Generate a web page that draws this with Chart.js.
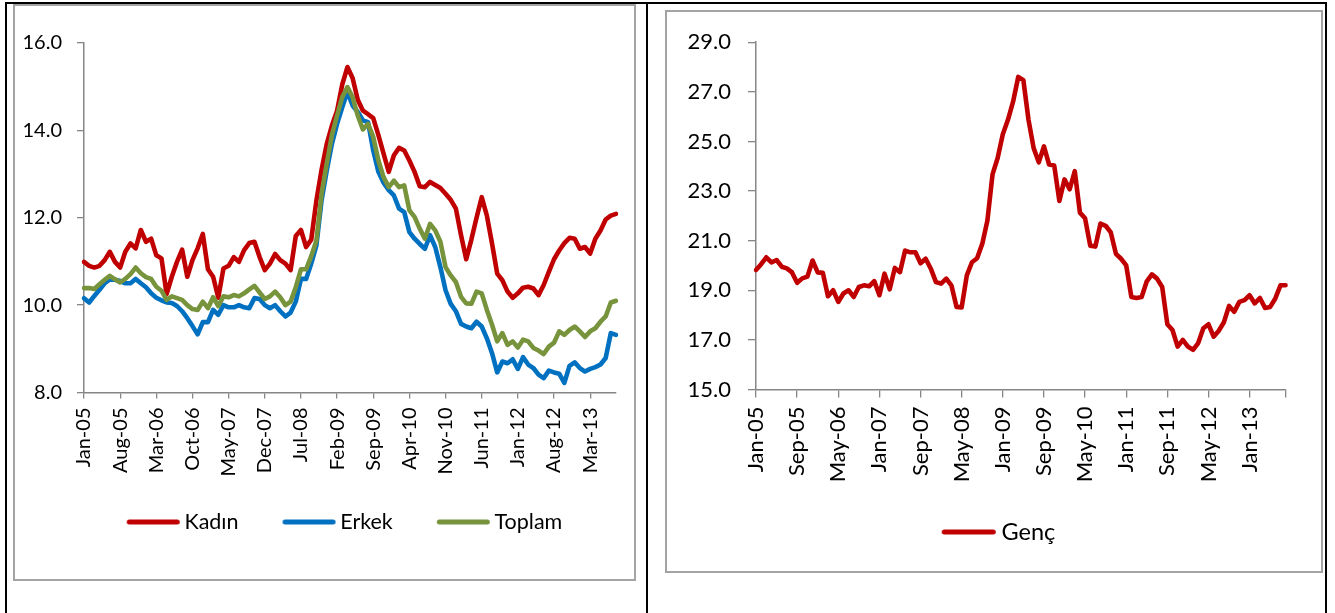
<!DOCTYPE html>
<html><head><meta charset="utf-8">
<script src="https://cdn.jsdelivr.net/npm/chart.js@4.4.1/dist/chart.umd.min.js"></script>
<style>
html,body{margin:0;padding:0;background:#fff;width:1335px;height:613px;overflow:hidden;}
.bl{position:absolute;background:#000;}
.box{position:absolute;border:2px solid #a3a3a3;box-sizing:border-box;background:#fff;}
canvas{position:absolute;}
</style></head><body>
<div class="bl" style="left:5px;top:2px;width:1322px;height:2px"></div>
<div class="bl" style="left:5px;top:2px;width:2px;height:611px"></div>
<div class="bl" style="left:646px;top:2px;width:2px;height:611px"></div>
<div class="bl" style="left:1325px;top:2px;width:2px;height:611px"></div>
<div class="box" style="left:13px;top:4px;width:623px;height:577px"></div>
<div class="box" style="left:665px;top:10px;width:658px;height:563px"></div>
<canvas id="c1" width="619" height="573" style="left:15px;top:6px;width:619px;height:573px"></canvas>
<canvas id="c2" width="654" height="559" style="left:667px;top:12px;width:654px;height:559px"></canvas>
<script>
const monthNames = ['Jan','Feb','Mar','Apr','May','Jun','Jul','Aug','Sep','Oct','Nov','Dec'];
const categories = [];
for (let y = 2005; y <= 2013; y++) {
  for (let m = 0; m < 12; m++) {
    if (categories.length < 104) categories.push(monthNames[m] + '-' + String(y).slice(2));
  }
}
const kadin = [10.99,10.90,10.86,10.90,11.03,11.22,10.99,10.86,11.22,11.41,
11.30,11.72,11.45,11.52,11.14,11.07,10.25,10.65,10.99,11.27,
10.65,11.03,11.30,11.63,10.82,10.65,10.17,10.84,10.90,11.10,
10.99,11.26,11.42,11.45,11.10,10.80,10.95,11.17,11.03,10.95,
10.80,11.58,11.72,11.33,11.50,12.40,13.10,13.69,14.11,14.45,
15.05,15.45,15.20,14.70,14.45,14.37,14.28,13.89,13.47,13.05,
13.43,13.60,13.54,13.31,13.05,12.72,12.70,12.82,12.75,12.68,
12.55,12.41,12.21,11.60,11.05,11.50,12.00,12.47,12.05,11.41,
10.72,10.57,10.31,10.17,10.27,10.40,10.42,10.38,10.23,10.46,
10.76,11.05,11.25,11.42,11.54,11.52,11.29,11.33,11.18,11.52,
11.71,11.96,12.05,12.09];
const erkek = [10.16,10.06,10.21,10.35,10.50,10.59,10.58,10.55,10.50,10.50,
10.60,10.50,10.41,10.27,10.17,10.11,10.06,10.05,9.98,9.86,
9.70,9.52,9.33,9.61,9.61,9.89,9.78,10.00,9.95,9.95,
10.00,9.95,9.93,10.16,10.14,10.00,9.93,10.00,9.86,9.74,
9.83,10.08,10.60,10.60,10.95,11.37,12.40,13.08,13.69,14.15,
14.53,14.88,14.57,14.42,14.23,14.19,13.54,13.05,12.80,12.63,
12.51,12.21,12.13,11.67,11.52,11.40,11.29,11.60,11.33,10.87,
10.34,10.03,9.86,9.57,9.51,9.47,9.62,9.51,9.24,8.90,
8.46,8.71,8.67,8.76,8.54,8.81,8.64,8.56,8.41,8.33,
8.50,8.46,8.43,8.22,8.61,8.69,8.56,8.48,8.54,8.58,
8.64,8.79,9.36,9.32];
const toplam = [10.39,10.39,10.37,10.48,10.58,10.67,10.59,10.52,10.60,10.71,
10.86,10.73,10.64,10.60,10.42,10.33,10.12,10.20,10.16,10.12,
10.00,9.91,9.89,10.08,9.93,10.18,9.98,10.20,10.18,10.23,
10.20,10.27,10.36,10.44,10.29,10.14,10.20,10.31,10.18,10.00,
10.08,10.41,10.82,10.82,11.12,11.48,12.55,13.24,13.89,14.34,
14.76,14.99,14.76,14.34,14.02,14.15,13.85,13.31,12.93,12.70,
12.85,12.70,12.74,12.17,12.02,11.75,11.52,11.86,11.71,11.45,
10.87,10.68,10.53,10.19,10.04,10.03,10.31,10.27,9.89,9.55,
9.17,9.36,9.09,9.17,9.03,9.21,9.17,9.02,8.96,8.88,
9.05,9.14,9.40,9.32,9.43,9.51,9.40,9.27,9.40,9.47,
9.62,9.74,10.06,10.10];
const genc = [19.82,20.05,20.33,20.12,20.22,19.95,19.88,19.72,19.30,19.48,
19.55,20.20,19.72,19.70,18.76,19.00,18.53,18.87,19.00,18.73,
19.13,19.20,19.16,19.37,18.80,19.67,19.04,19.90,19.73,20.60,
20.53,20.53,20.09,20.27,19.87,19.33,19.27,19.47,19.20,18.33,
18.31,19.60,20.13,20.29,20.87,21.80,23.67,24.33,25.29,25.87,
26.60,27.60,27.47,25.87,24.73,24.16,24.80,24.07,24.03,22.60,
23.47,23.07,23.80,22.13,21.90,20.80,20.76,21.69,21.60,21.33,
20.47,20.27,20.00,18.73,18.69,18.73,19.36,19.64,19.47,19.13,
17.63,17.40,16.73,17.00,16.73,16.60,16.87,17.47,17.63,17.13,
17.37,17.71,18.37,18.13,18.53,18.60,18.80,18.47,18.69,18.29,
18.33,18.67,19.20,19.20];
const seriesNames = ['Kadın','Erkek','Toplam'];
const seriesColors = ['#C00000','#0070C0','#77933C'];
const gencName = 'Genç';
const leftTicks = {min: 8, max: 16, step: 2};
const rightTicks = {min: 15, max: 29, step: 2};

const FONT = 'Lato';
const axisGray = '#868686';

// legend symbol: a thick round-capped line placed close to the label text
function legendSymbol(color, boxW, fs, len, gap) {
  const h = fs / 2;
  const cw = Math.round(boxW + 2 * h), ch = 10;
  const c = document.createElement('canvas');
  c.width = cw; c.height = ch;
  const g = c.getContext('2d');
  g.strokeStyle = color; g.lineWidth = 5; g.lineCap = 'round';
  g.beginPath();
  g.moveTo(cw - gap - len + 2.5, ch / 2);
  g.lineTo(cw - gap - 2.5, ch / 2);
  g.stroke();
  return c;
}

const legendShift = {
  id: 'legendShift',
  afterLayout(chart, args, opts) {
    const L = chart.legend;
    if (!L || opts.cx == null) return;
    const pad = L.options.labels.padding;
    const fs = L.options.labels.font.size;
    const dx = opts.cx - (L.left + L.right) / 2;
    const dy = opts.cy - (L.top + pad + fs / 2);
    L.left += dx; L.right += dx; L.top += dy; L.bottom += dy;
  }
};

function lineDs(label, data, color, order, sym) {
  return {label, data, borderColor: color, backgroundColor: color, borderWidth: 4.6,
    pointRadius: 0, tension: 0, borderCapStyle: 'round', borderJoinStyle: 'round', order,
    pointStyle: sym};
}
function makeOpts(cfg) {
  return {
    responsive: false, animation: false, devicePixelRatio: 1,
    layout: {autoPadding: false, padding: cfg.pad},
    plugins: {
      tooltip: {enabled: false},
      legendShift: {cx: cfg.cx, cy: cfg.cy},
      legend: {position: 'bottom', align: 'center',
        labels: {usePointStyle: true, pointStyleWidth: cfg.bw,
          padding: cfg.lp, color: '#000', font: {family: FONT, size: cfg.lfs},
          sort: (a, b) => a.datasetIndex - b.datasetIndex}}
    },
    scales: {
      x: {type: 'category', offset: false,
        grid: {drawOnChartArea: false, drawTicks: true, tickLength: cfg.tlx, color: axisGray, lineWidth: 1.3},
        border: {color: axisGray, width: 1.5},
        ticks: {autoSkip: false, maxRotation: 90, minRotation: 90, padding: cfg.xpad, color: '#000',
          font: {family: FONT, size: cfg.fs},
          callback: function (v) { return v % cfg.every === 0 ? this.getLabelForValue(v) : ''; }},
        afterBuildTicks: s => { s.ticks = s.ticks.filter(t => t.value % cfg.every === 0 || (cfg.endTick && t.value === categories.length - 1)); },
        afterFit: s => { s.height = cfg.xh; }
      },
      y: {min: cfg.yt.min, max: cfg.yt.max,
        grid: {drawOnChartArea: false, drawTicks: true, tickLength: cfg.tly, color: axisGray, lineWidth: 1.3},
        border: {color: axisGray, width: 1.5},
        ticks: {stepSize: cfg.yt.step, padding: cfg.ypad, color: '#000', font: {family: FONT, size: cfg.fs},
          callback: v => v.toFixed(1)},
        afterFit: s => { s.width = cfg.yw; }
      }
    }
  };
}

const L_FS = 20, R_FS = 22, L_LFS = 21.5, R_LFS = 23.5, BW = 48;
new Chart(document.getElementById('c1'), {
  type: 'line',
  data: {labels: categories, datasets: [
    lineDs(seriesNames[0], kadin, seriesColors[0], 3, legendSymbol(seriesColors[0], BW, L_LFS, 53, 5)),
    lineDs(seriesNames[1], erkek, seriesColors[1], 2, legendSymbol(seriesColors[1], BW, L_LFS, 53, 5)),
    lineDs(seriesNames[2], toplam, seriesColors[2], 1, legendSymbol(seriesColors[2], BW, L_LFS, 53, 5))
  ]},
  plugins: [legendShift],
  options: makeOpts({pad: {left: 1, right: 18, top: 37, bottom: 12}, bw: BW, lp: 43, fs: L_FS, lfs: L_LFS,
    tlx: 6, tly: 7, xpad: 9, ypad: 15, every: 7, endTick: false, xh: 100, yw: 68, yt: leftTicks,
    cx: 344 - 15, cy: 522 - 6})
});

new Chart(document.getElementById('c2'), {
  type: 'line',
  data: {labels: categories, datasets: [lineDs(gencName, genc, seriesColors[0], 1, legendSymbol(seriesColors[0], BW, R_LFS, 54, 6))]},
  plugins: [legendShift],
  options: makeOpts({pad: {left: 9, right: 28, top: 30, bottom: 18}, bw: BW, lp: 10, fs: R_FS, lfs: R_LFS,
    tlx: 8, tly: 8, xpad: 9, ypad: 17, every: 8, endTick: true, xh: 120, yw: 80, yt: rightTicks,
    cx: 998.5 - 667, cy: 532 - 12})
});
</script>
</body></html>
